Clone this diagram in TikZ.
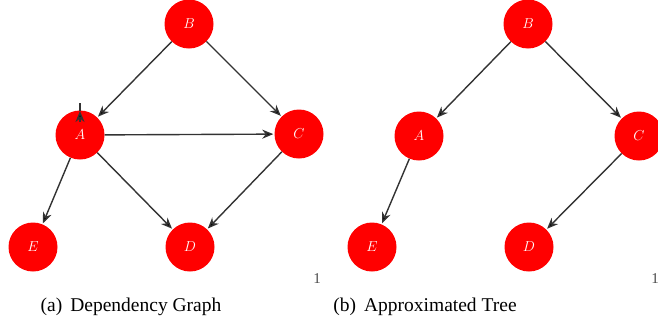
\documentclass[tikz,border=0pt]{standalone}
\usepackage{fontspec}
\setmainfont{Liberation Serif}
\usetikzlibrary{arrows.meta,calc}
\tikzset{
  vert/.style={circle, fill=red, draw=none, minimum size=49pt, inner sep=0pt,
    text=white, font=\fontsize{14.5}{16}\selectfont},
  edge/.style={draw=black!80, line width=1.4pt,
    -{Stealth[length=11pt,width=9pt,inset=3.5pt,fill=black]}, shorten >=1pt},
  plain/.style={draw=black!80, line width=1.4pt},
  captext/.style={font=\rmfamily\fontsize{19.5}{22}\selectfont, anchor=base},
  pagemark/.style={font=\fontsize{15}{16}\selectfont, text=black!70, anchor=base, inner sep=0pt}
}
\begin{document}
\begin{tikzpicture}[x=1pt, y=-1pt]
  \useasboundingbox (0,0) rectangle (658,335);

  % (a) dependency graph
  \node[vert] (aB) at (189,24)  {$B$};
  \node[vert] (aA) at (80,135)  {$A$};
  \node[vert] (aC) at (299,134) {$C$};
  \node[vert] (aE) at (33,247)  {$E$};
  \node[vert] (aD) at (190,247) {$D$};

  \draw[edge] (aB) -- (aA);
  \draw[edge] (aB) -- (aC);
  \draw[edge] (aA) -- (aC);
  \draw[edge] (aA) -- (aD);
  \draw[edge] (aC) -- (aD);
  \draw[edge] (aA) -- (aE);

  % collapsed self-loop on A
  \coordinate (loopTop) at (80,103);
  \coordinate (loopTip) at (80,111);
  \coordinate (loopBase) at (80,122);
  \draw[plain] (loopTop) -- (loopTip);
  \draw[edge, shorten >=0pt] (loopBase) -- (loopTip);

  % (b) approximated tree
  \node[vert] (bB) at (528,24)  {$B$};
  \node[vert] (bA) at (419,136) {$A$};
  \node[vert] (bC) at (639,136) {$C$};
  \node[vert] (bE) at (372,247) {$E$};
  \node[vert] (bD) at (529,247) {$D$};

  \draw[edge] (bB) -- (bA);
  \draw[edge] (bB) -- (bC);
  \draw[edge] (bA) -- (bE);
  \draw[edge] (bC) -- (bD);

  % page marks
  \node[pagemark] (pa) at (317,283) {1};
  \node[pagemark] (pb) at (655,283) {1};

  % captions
  \node[captext] (capa) at (131,311) {(a)\hskip 8pt Dependency Graph};
  \node[captext] (capb) at (425,311) {(b)\hskip 8pt Approximated Tree};
\end{tikzpicture}
\end{document}
